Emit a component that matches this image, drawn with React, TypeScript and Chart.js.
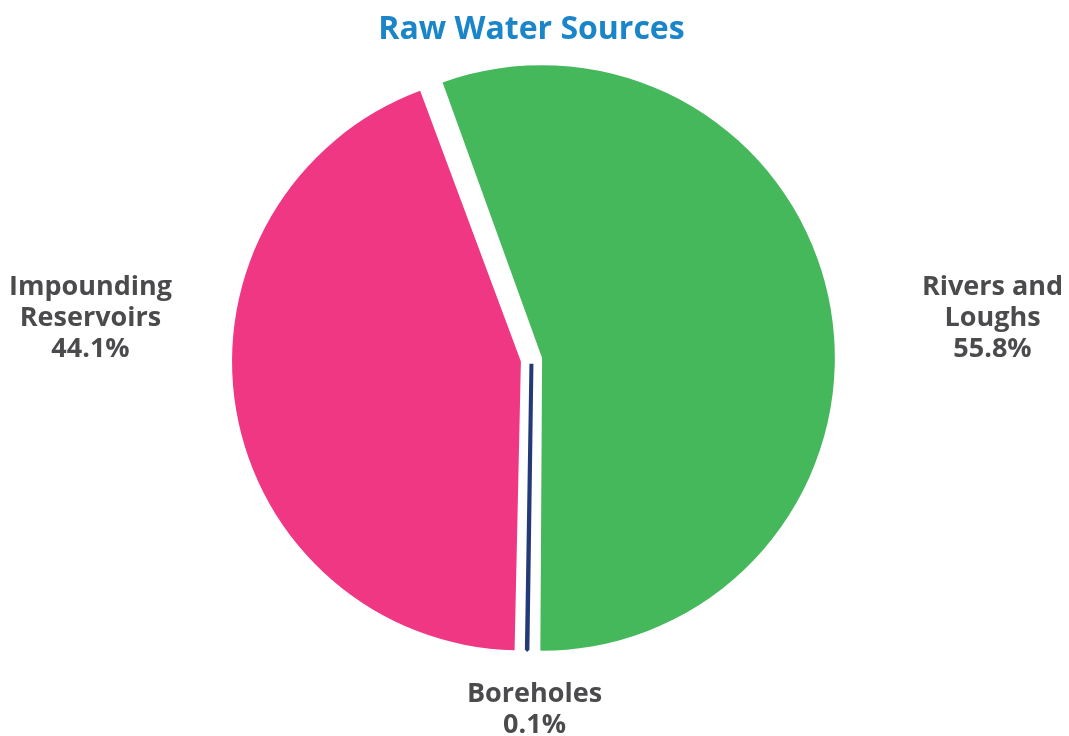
import React, { useEffect, useRef } from 'react';
import { Chart, registerables } from 'chart.js';

Chart.register(...registerables);

const chartTitle = 'Raw Water Sources';
const categories = ['Rivers and\nLoughs', 'Boreholes', 'Impounding\nReservoirs'];
const shares = [55.8, 0.1, 44.1];
const sliceColors = ['#46b85c', '#243a78', '#ef3784'];

const LABEL_FONT = '700 27px "Open Sans"';
const LABEL_COLOR = '#4b4b4d';
const LINE_H = 31;
const LABEL_NUDGE_X = 10;

const sliceLabels = {
  id: 'sliceLabels',
  afterDatasetsDraw(chart: any) {
    const ctx = chart.ctx as CanvasRenderingContext2D;
    const meta = chart.getDatasetMeta(0);
    ctx.save();
    ctx.font = LABEL_FONT;
    ctx.fillStyle = LABEL_COLOR;
    ctx.textAlign = 'center';
    ctx.textBaseline = 'middle';
    meta.data.forEach((arc: any, i: number) => {
      const { x, y, startAngle, endAngle, outerRadius } = arc.getProps(
        ['x', 'y', 'startAngle', 'endAngle', 'outerRadius'],
        true
      );
      const mid = (startAngle + endAngle) / 2;
      const lines = [...categories[i].split('\n'), shares[i].toFixed(1) + '%'];
      const c = Math.cos(mid);
      let lx: number;
      let firstY: number;
      if (Math.abs(c) > 0.5) {
        lx = x + LABEL_NUDGE_X + Math.sign(c) * (outerRadius + 169);
        const middleY = y - outerRadius * 0.15 + 1;
        firstY = middleY - ((lines.length - 1) / 2) * LINE_H;
      } else {
        lx = x + 3;
        firstY = y + outerRadius + 53;
      }
      lines.forEach((t, k) => ctx.fillText(t, lx, firstY + k * LINE_H));
    });
    ctx.restore();
  },
};

export default function App() {
  const canvasRef = useRef<HTMLCanvasElement | null>(null);

  useEffect(() => {
    document.body.style.margin = '0';
    const canvas = canvasRef.current;
    if (!canvas) return;
    const chart = new Chart(canvas, {
      type: 'pie',
      data: {
        labels: categories,
        datasets: [
          {
            data: shares,
            backgroundColor: sliceColors,
            borderColor: ['#ffffff', sliceColors[1], '#ffffff'],
            borderWidth: [0, 4, 0],
            offset: [43, 16, 43],
            hoverOffset: 0,
          },
        ],
      },
      options: {
        animation: false,
        responsive: true,
        maintainAspectRatio: false,
        rotation: -20.2,
        radius: 282,
        layout: { padding: { top: 0, left: 0, right: 6, bottom: 66 } },
        events: [],
        plugins: {
          legend: { display: false },
          tooltip: { enabled: false },
          title: {
            display: true,
            text: chartTitle,
            color: '#1a85c8',
            font: { family: '"Open Sans"', size: 32, weight: 'bold', lineHeight: 1.2 },
            padding: { top: 11, bottom: 0 },
          },
        },
      } as any,
      plugins: [sliceLabels],
    });
    return () => chart.destroy();
  }, []);

  return (
    <div style={{ position: 'relative', width: 1069, height: 736 }}>
      <canvas ref={canvasRef} />
    </div>
  );
}
